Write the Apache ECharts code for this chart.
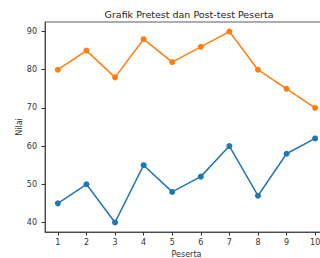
<!DOCTYPE html>
<html>
<head>
<meta charset="utf-8">
<script src="https://cdn.jsdelivr.net/npm/echarts@6/dist/echarts.min.js"></script>
<style>
  html, body { margin: 0; padding: 0; background: #fff; }
  #chart { width: 320px; height: 258px; }
</style>
</head>
<body>
<div id="chart"></div>
<script>
// peserta 1..10
const peserta = [1, 2, 3, 4, 5, 6, 7, 8, 9, 10];
const pretest = [45, 50, 40, 55, 48, 52, 60, 47, 58, 62];
const posttest = [80, 85, 78, 88, 82, 86, 90, 80, 75, 70];
const yTicks = [40, 50, 60, 70, 80, 90];

const chart = echarts.init(document.getElementById("chart"), null, { renderer: "svg" });

const axisText = { color: "#333", fontSize: 8, fontFamily: "DejaVu Sans" };

const option = {
  animation: false,
  title: {
    text: "Grafik Pretest dan Post-test Peserta",
    left: 184, top: 4,
    textAlign: "center",
    textStyle: { fontSize: 9.5, fontWeight: "normal", color: "#222", fontFamily: "DejaVu Sans" }
  },
  grid: {
    left: 45, top: 22, right: -8, bottom: 26,
    outerBoundsMode: "none",
    containLabel: false,
    show: true, borderColor: "#333", borderWidth: 0.8
  },
  xAxis: {
    type: "value",
    min: 0.55, max: 10.45,
    name: "Peserta", nameLocation: "center", nameGap: 16,
    nameTextStyle: axisText,
    splitLine: { show: false },
    axisLine: { show: true, lineStyle: { color: "#333", width: 0.8 } },
    axisTick: { show: true, length: 3.5, customValues: peserta, lineStyle: { color: "#333" } },
    axisLabel: { customValues: peserta, margin: 6, ...axisText }
  },
  yAxis: {
    type: "value",
    min: 37.5, max: 92.5,
    name: "Nilai", nameLocation: "center", nameGap: 22,
    nameMoveOverlap: false,
    nameTextStyle: axisText,
    splitLine: { show: false },
    axisLine: { show: true, lineStyle: { color: "#333", width: 0.8 } },
    axisTick: { show: true, length: 3.5, customValues: yTicks, lineStyle: { color: "#333" } },
    axisLabel: { customValues: yTicks, margin: 8, ...axisText }
  },
  series: [
    {
      name: "Pretest",
      type: "line",
      data: peserta.map((p, i) => [p, pretest[i]]),
      symbol: "circle", symbolSize: 6,
      lineStyle: { color: "#1f77b4", width: 1.5 },
      itemStyle: { color: "#1f77b4" }
    },
    {
      name: "Post-test",
      type: "line",
      data: peserta.map((p, i) => [p, posttest[i]]),
      symbol: "circle", symbolSize: 6,
      lineStyle: { color: "#ff7f0e", width: 1.5 },
      itemStyle: { color: "#ff7f0e" }
    }
  ]
};

chart.setOption(option);
</script>
</body>
</html>
